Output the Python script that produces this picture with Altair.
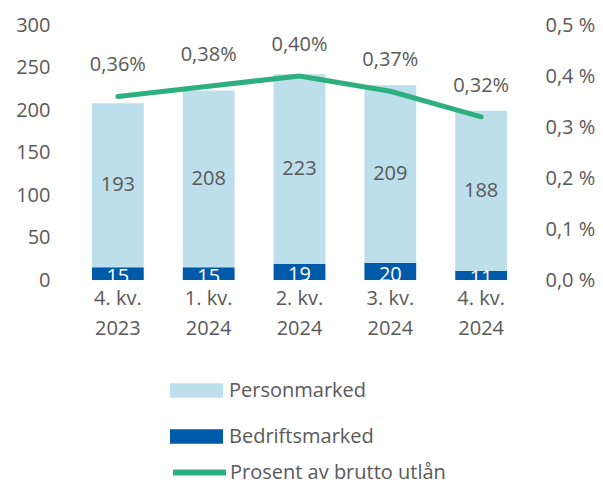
import altair as alt
import pandas as pd

quarters = ["4. kv.\n2023", "1. kv.\n2024", "2. kv.\n2024", "3. kv.\n2024", "4. kv.\n2024"]
personmarked = [193, 208, 223, 209, 188]
bedriftsmarked = [15, 15, 19, 20, 11]
prosent = [0.36, 0.38, 0.40, 0.37, 0.32]
series = ["Personmarked", "Bedriftsmarked"]
line_name = "Prosent av brutto utlån"
left_ticks = [0, 50, 100, 150, 200, 250, 300]
right_ticks = [0, 0.1, 0.2, 0.3, 0.4, 0.5]

LIGHT = "#BDDFEB"
DARK = "#005AAA"
GREEN = "#2EAF7F"
GRAY = "#595959"
FONT = "Open Sans"
FS = 20

rows = []
for q, p, b in zip(quarters, personmarked, bedriftsmarked):
    rows.append(dict(q=q, serie="Bedriftsmarked", v=b, y0=0, y1=b, mid=b / 2, ord=0))
    rows.append(dict(q=q, serie="Personmarked", v=p, y0=b, y1=b + p, mid=b + p / 2, ord=1))
bars_df = pd.DataFrame(rows)

line_df = pd.DataFrame({
    "q": quarters,
    "pct": prosent,
    "serie": [line_name] * len(quarters),
    "lbl": [f"{v:.2f}".replace(".", ",") + "%" for v in prosent],
})

xaxis = alt.Axis(labelAngle=0, domain=False, ticks=False, grid=False,
                 labelExpr="split(datum.label, '\\n')", labelFontSize=FS,
                 labelColor=GRAY, labelFont=FONT, labelLineHeight=30,
                 labelPadding=8, labelBaseline="top", title=None)
xscale = alt.Scale(paddingInner=0.43, paddingOuter=0.22)


def xenc():
    return alt.X("q:N", sort=quarters, title=None, scale=xscale, axis=xaxis)


yleft_scale = alt.Scale(domain=[0, 300], nice=False)
yright_scale = alt.Scale(domain=[0, 0.5], nice=False)
yleft_axis = alt.Axis(values=left_ticks, domain=False, ticks=False, grid=False,
                      labelFontSize=FS, labelColor=GRAY, labelFont=FONT,
                      labelPadding=22, title=None)
yright_axis = alt.Axis(orient="right", values=right_ticks, domain=False,
                       ticks=False, grid=False, labelFontSize=FS,
                       labelColor=GRAY, labelFont=FONT, labelPadding=18,
                       title=None,
                       labelExpr="replace(format(datum.value, '.1f'), '.', ',') + ' %'")

bars = alt.Chart(bars_df).mark_bar().encode(
    x=xenc(),
    y=alt.Y("y1:Q", scale=yleft_scale, title=None, axis=yleft_axis),
    y2="y0:Q",
    fill=alt.Fill("serie:N",
                  scale=alt.Scale(domain=series, range=[LIGHT, DARK]),
                  legend=alt.Legend(orient="none", legendX=98, legendY=339,
                                    direction="vertical", title=None,
                                    symbolType="M-1,-0.27H1V0.27H-1Z",
                                    symbolSize=2809, symbolStrokeWidth=0,
                                    labelFontSize=FS, labelColor=GRAY,
                                    labelFont=FONT, labelOffset=6,
                                    labelLimit=400,
                                    rowPadding=9, padding=0)),
)

txt_person = alt.Chart(bars_df).transform_filter(
    alt.datum.serie == "Personmarked"
).mark_text(fontSize=FS, font=FONT, color=GRAY, baseline="middle").encode(
    x=xenc(),
    y=alt.Y("mid:Q", scale=yleft_scale, title=None, axis=yleft_axis),
    text="v:Q",
)

txt_bed = alt.Chart(bars_df).transform_filter(
    alt.datum.serie == "Bedriftsmarked"
).mark_text(fontSize=FS, font=FONT, color="white", baseline="middle", dy=3, clip=True).encode(
    x=xenc(),
    y=alt.Y("mid:Q", scale=yleft_scale, title=None, axis=yleft_axis),
    text="v:Q",
)

left = alt.layer(bars, txt_person, txt_bed)

line = alt.Chart(line_df).mark_line(strokeWidth=5, strokeCap="round").encode(
    x=xenc(),
    y=alt.Y("pct:Q", scale=yright_scale, title=None, axis=yright_axis),
    stroke=alt.Stroke("serie:N",
                      scale=alt.Scale(domain=[line_name], range=[GREEN]),
                      legend=alt.Legend(orient="none", legendX=98, legendY=418,
                                        title=None, symbolType="stroke",
                                        symbolSize=2809, symbolStrokeWidth=6,
                                        labelFontSize=FS, labelColor=GRAY,
                                        labelFont=FONT, labelOffset=1,
                                        labelLimit=400, padding=0)),
)

line_txt = alt.Chart(line_df).mark_text(fontSize=FS, font=FONT, color=GRAY,
                                        baseline="middle", dy=-31).encode(
    x=xenc(),
    y=alt.Y("pct:Q", scale=yright_scale, title=None, axis=yright_axis),
    text="lbl:N",
)

right = alt.layer(line, line_txt)

chart = alt.layer(left, right).resolve_scale(y="independent").properties(
    width=455, height=255,
    padding={"left": 64, "top": 17, "right": 68, "bottom": 205},
    autosize=alt.AutoSizeParams(type="none"),
    background="white",
).configure_view(stroke=None)

chart.save("out.html", embed_options={"renderer": "svg", "actions": False})
